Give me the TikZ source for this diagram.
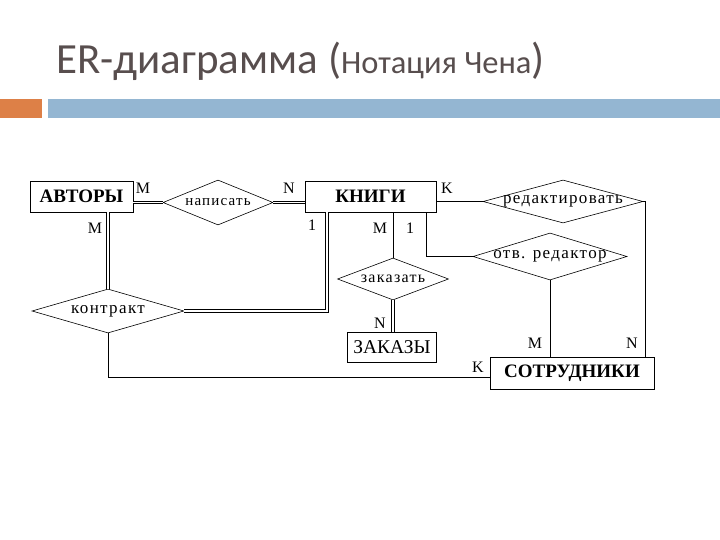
\documentclass[tikz,border=0pt]{standalone}
\usepackage{fontspec}
\setmainfont{Liberation Serif}
\newfontfamily\titlefont{Carlito}
\newfontfamily\relfont[LetterSpace=8]{Liberation Serif}
\usetikzlibrary{shapes.geometric}
\definecolor{titlegray}{HTML}{584E4E}
\definecolor{barorange}{HTML}{DD8047}
\definecolor{barblue}{HTML}{94B6D2}
\tikzset{
  entity/.style={draw, line width=0.9pt, inner sep=0pt, font=\fontsize{19}{19}\selectfont\bfseries},
  entityplain/.style={draw, line width=0.9pt, inner sep=0pt, font=\fontsize{19.5}{19.5}\selectfont},
  relation/.style={draw, diamond, line width=0.6pt, inner sep=0pt, font=\relfont\fontsize{#1}{#1}\selectfont},
  card/.style={inner sep=0pt, font=\fontsize{16}{16}\selectfont},
  conn/.style={line width=0.9pt},
  dconn/.style={double, double distance=1.6pt, line width=0.8pt},
}
\begin{document}
\begin{tikzpicture}[x=1pt,y=-1pt]
\useasboundingbox (0,0) rectangle (720,540);
% title
\node[anchor=base west, inner sep=0pt, text=titlegray, font=\titlefont\fontsize{43}{43}\selectfont] (title) at (56,74)
  {ER-диаграмма ({\fontsize{32.5}{32.5}\selectfont Нотация Чена})};
% bar
\fill[barorange] (0,99) rectangle (42,118);
\fill[barblue] (48,99) rectangle (720,118);
% entities
\node[entity, minimum width=103, minimum height=31] (avt) at (81.5,196.5) {АВТОРЫ};
\node[entity, minimum width=131, minimum height=31] (kni) at (370.5,196.5) {КНИГИ};
\node[entityplain, minimum width=89, minimum height=30] (zak) at (392,347.5) {ЗАКАЗЫ};
\node[entity, minimum width=164, minimum height=32] (sot) at (572,373) {СОТРУДНИКИ};
% relations
\node[relation=15, minimum width=110, minimum height=45] (nap) at (218,202.5) {\makebox[0pt]{написать}};
\node[relation=17, minimum width=160, minimum height=43] (red) at (563,201.5) {\makebox[0pt]{редактировать}};
\node[relation=17, minimum width=154, minimum height=47] (otv) at (550,256.5) {\makebox[0pt]{отв. редактор}};
\node[relation=16, minimum width=111, minimum height=42] (zkz) at (393,279) {\makebox[0pt]{заказать}};
\node[relation=17, minimum width=152, minimum height=44] (kon) at (108,311) {\makebox[0pt]{контракт}};
% helper coordinates
\coordinate (rc) at (645,201.5);
\coordinate (kc) at (327,311);
\coordinate (bl) at (108,377);
\coordinate (ob) at (426,256.5);
% connectors
\draw[dconn] (nap.west) -- (nap.west -| avt.east);
\draw[dconn] (nap.east) -- (nap.east -| kni.west);
\draw[conn] (red.west) -- (red.west -| kni.east);
\draw[conn] (red.east) -- (rc) -- (rc |- sot.north);
\draw[dconn] (avt.south -| kon.north) -- (kon.north);
\draw[dconn] (kon.east) -- (kc) -- (kc |- kni.south);
\draw[conn] (kon.south) -- (bl) -- (bl -| sot.west);
\draw[conn] (zkz.north) -- (zkz.north |- kni.south);
\draw[conn] (ob |- kni.south) -- (ob) -- (otv.west);
\draw[dconn] (zkz.south) -- (zkz.south |- zak.north);
\draw[conn] (otv.south) -- (otv.south |- sot.north);
% cardinalities
\node[card] (c1) at (143,188) {M};
\node[card] (c2) at (289,188) {N};
\node[card] (c3) at (447,188) {K};
\node[card] (c4) at (95,228) {M};
\node[card] (c5) at (312,225) {1};
\node[card] (c6) at (380,228) {M};
\node[card] (c7) at (410,228) {1};
\node[card] (c8) at (380,323) {N};
\node[card] (c9) at (535,343) {M};
\node[card] (c10) at (632,343) {N};
\node[card] (c11) at (478,367) {K};
\end{tikzpicture}
\end{document}
